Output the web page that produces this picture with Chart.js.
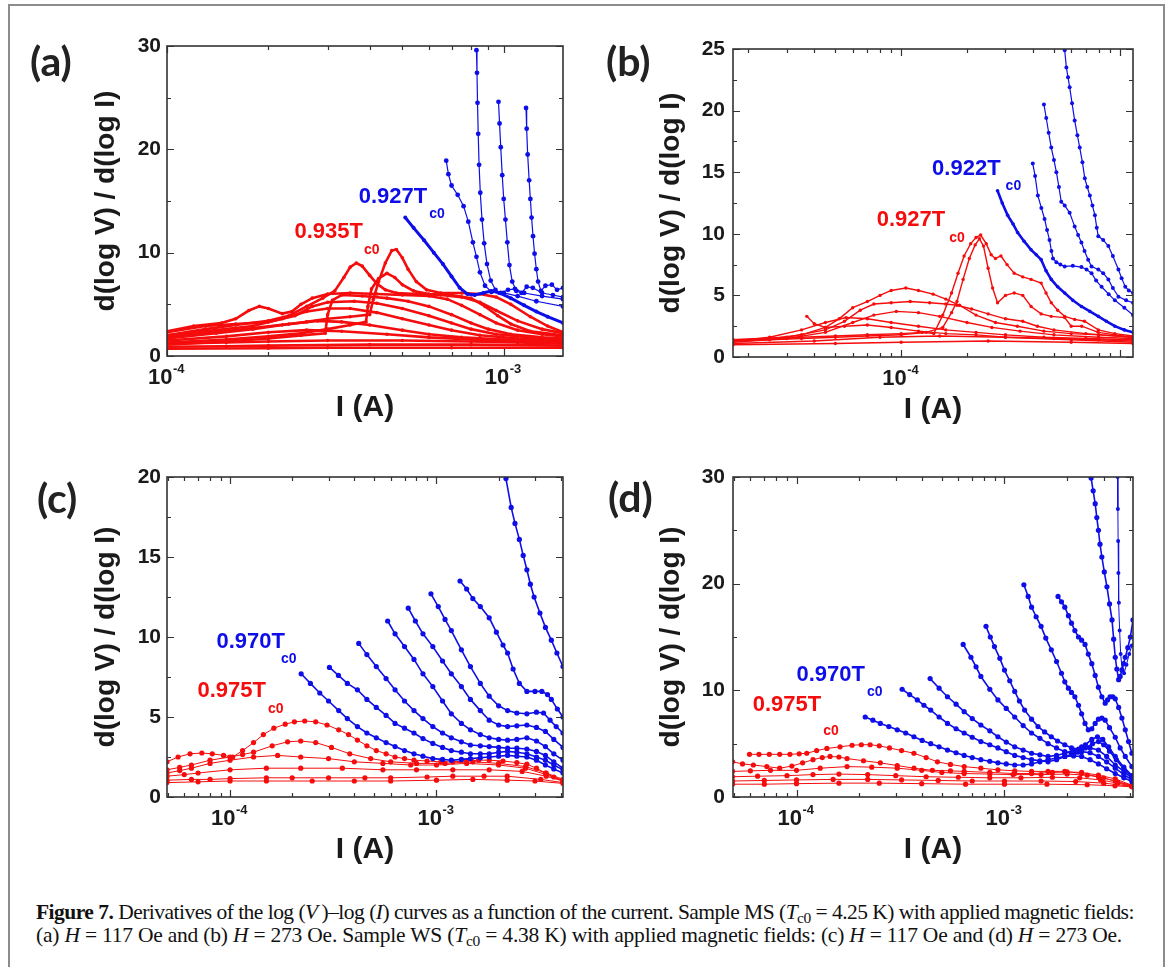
<!DOCTYPE html>
<html>
<head>
<meta charset="utf-8">
<script src="https://cdn.jsdelivr.net/npm/chart.js@4.4.1/dist/chart.umd.min.js"></script>
<style>
html, body { margin: 0; padding: 0; background: #fff; overflow: hidden; }
#fig { position: relative; width: 1168px; height: 967px; }
#box { position: absolute; left: 8px; top: 4px; width: 1153px; height: 1000px; border: 2px solid #8c8c8c; }
canvas { position: absolute; }
.tag { position: absolute; font: bold 41px Lato, 'Open Sans', sans-serif; line-height: 1; color: #222; }
#cap { position: absolute; left: 36px; top: 901px; font-family: 'Liberation Serif', 'Times New Roman', serif; font-size: 21.5px; line-height: 23px; color: #111; white-space: nowrap; }
#cap sub { font-size: 0.72em; line-height: 0; vertical-align: -0.25em; }
</style>
</head>
<body>
<div id="fig">
  <div id="box"></div>
  <canvas id="ca" width="580" height="440" style="left:0;top:0"></canvas>
  <canvas id="cb" width="588" height="440" style="left:580px;top:0"></canvas>
  <canvas id="cc" width="580" height="440" style="left:0;top:440px"></canvas>
  <canvas id="cd" width="588" height="440" style="left:580px;top:440px"></canvas>
  <div class="tag" style="left:30px;top:40px">(a)</div>
  <div class="tag" style="left:606px;top:40px">(b)</div>
  <div class="tag" style="left:37px;top:477px">(c)</div>
  <div class="tag" style="left:608px;top:476px">(d)</div>
  <div id="cap">
    <div><span id="l1"><b>Figure 7.</b> Derivatives of the log (<i>V</i>&#8201;)–log (<i>I</i>) curves as a function of the current. Sample MS (<i>T</i><sub>c0</sub> = 4.25 K) with applied magnetic fields:</span></div>
    <div><span id="l2">(a) <i>H</i> = 117 Oe and (b) <i>H</i> = 273 Oe. Sample WS (<i>T</i><sub>c0</sub> = 4.38 K) with applied magnetic fields: (c) <i>H</i> = 117 Oe and (d) <i>H</i> = 273 Oe.</span></div>
  </div>
</div>
<script>
// ---- panel (a): sample MS, H = 117 Oe   [I (A), d(logV)/d(logI)]
const aBlue1 = [[5.1e-4,13.4],[5.4e-4,12.4],[5.8e-4,11.2],[6.2e-4,10.0],[6.6e-4,8.9],[7.0e-4,7.7],[7.4e-4,6.6],[7.8e-4,6.0],[8.2e-4,5.9],[8.7e-4,6.1],[9.2e-4,6.3],[9.7e-4,6.1],[1.05e-3,5.6],[1.15e-3,4.9],[1.25e-3,4.3],[1.35e-3,3.8],[1.5e-3,3.2]];
const aBlue2 = [[6.75e-4,18.9],[6.85e-4,17.6],[7.0e-4,16.5],[7.3e-4,15.6],[7.6e-4,14.5],[7.85e-4,13.0],[8.1e-4,11.0],[8.3e-4,9.6],[8.5e-4,8.1],[8.8e-4,6.8],[9.2e-4,6.2],[1.0e-3,6.1],[1.1e-3,5.8],[1.25e-3,5.3],[1.5e-3,4.8]];
const aBlue3 = [[8.3e-4,29.6],[8.33e-4,27.4],[8.36e-4,24.5],[8.4e-4,21.5],[8.45e-4,18.5],[8.52e-4,15.8],[8.62e-4,13.2],[8.75e-4,10.9],[8.92e-4,8.9],[9.15e-4,7.3],[9.45e-4,6.4],[9.8e-4,6.1],[1.03e-3,6.4],[1.08e-3,6.5],[1.15e-3,6.1],[1.3e-3,5.8],[1.5e-3,5.5]];
const aBlue4 = [[9.65e-4,24.6],[9.72e-4,22.5],[9.8e-4,20.2],[9.9e-4,17.5],[1.0e-3,15.2],[1.012e-3,13.2],[1.025e-3,11.0],[1.04e-3,8.8],[1.06e-3,7.2],[1.09e-3,6.3],[1.13e-3,6.1],[1.17e-3,6.7],[1.22e-3,6.6],[1.3e-3,6.1],[1.4e-3,5.9],[1.5e-3,5.7]];
const aBlue5 = [[1.165e-3,24.0],[1.17e-3,22.0],[1.178e-3,19.5],[1.19e-3,17.0],[1.2e-3,15.2],[1.21e-3,13.4],[1.222e-3,11.6],[1.235e-3,9.9],[1.25e-3,8.4],[1.265e-3,7.2],[1.29e-3,6.3],[1.33e-3,6.8],[1.39e-3,6.9],[1.44e-3,6.4],[1.5e-3,6.6]];
const aRed1 = [[1.0e-4,2.4],[1.2e-4,2.9],[1.45e-4,3.2],[1.6e-4,3.6],[1.75e-4,4.4],[1.88e-4,4.8],[2.0e-4,4.6],[2.2e-4,4.1],[2.35e-4,4.3],[2.5e-4,5.0],[2.7e-4,5.6],[3.0e-4,6.0],[3.5e-4,6.1],[4.2e-4,6.0],[5.0e-4,5.9],[6.0e-4,5.8],[6.8e-4,5.5],[7.5e-4,4.9],[8.5e-4,4.0],[9.5e-4,3.2],[1.1e-3,2.5],[1.3e-3,2.1],[1.5e-3,1.9]];
const aRed2 = [[1.0e-4,2.0],[1.3e-4,2.6],[1.6e-4,3.0],[2.0e-4,3.4],[2.3e-4,3.9],[2.6e-4,4.8],[2.9e-4,5.6],[3.15e-4,6.3],[3.35e-4,7.6],[3.5e-4,8.6],[3.65e-4,9.0],[3.8e-4,8.7],[4.0e-4,7.8],[4.2e-4,7.0],[4.45e-4,6.4],[4.8e-4,6.1],[5.5e-4,6.0],[6.5e-4,5.9],[7.5e-4,5.7],[8.5e-4,5.2],[9.5e-4,4.4],[1.1e-3,3.4],[1.3e-3,2.6],[1.5e-3,2.2]];
const aRed3 = [[1.0e-4,1.7],[1.4e-4,2.2],[1.8e-4,2.6],[2.2e-4,3.0],[2.6e-4,3.3],[3.0e-4,3.6],[3.5e-4,3.8],[4.0e-4,4.0],[4.1e-4,5.5],[4.25e-4,7.2],[4.45e-4,9.0],[4.65e-4,10.2],[4.8e-4,10.3],[5.0e-4,9.5],[5.2e-4,8.4],[5.5e-4,7.2],[5.9e-4,6.4],[6.5e-4,6.1],[7.5e-4,6.1],[8.5e-4,6.0],[9.5e-4,5.7],[1.05e-3,5.0],[1.2e-3,3.8],[1.35e-3,2.9],[1.5e-3,2.3]];
const aRed4 = [[1.0e-4,1.3],[1.5e-4,1.6],[2.0e-4,1.9],[2.5e-4,2.2],[3.0e-4,2.6],[3.5e-4,3.0],[3.9e-4,3.3],[3.95e-4,4.8],[4.05e-4,6.5],[4.25e-4,7.5],[4.5e-4,8.0],[4.75e-4,7.6],[5.0e-4,6.9],[5.4e-4,6.3],[6.0e-4,6.0],[7.0e-4,5.9],[8.0e-4,5.6],[8.8e-4,4.8],[9.6e-4,3.9],[1.05e-3,3.1],[1.2e-3,2.4],[1.5e-3,2.0]];
const aRed5 = [[1.0e-4,1.1],[1.5e-4,1.4],[2.0e-4,1.7],[2.5e-4,2.0],[2.95e-4,2.2],[3.0e-4,4.0],[3.1e-4,5.4],[3.3e-4,5.9],[3.8e-4,5.8],[4.5e-4,5.6],[5.2e-4,5.3],[6.0e-4,4.8],[7.0e-4,4.0],[8.0e-4,3.2],[9.0e-4,2.6],[1.05e-3,2.1],[1.3e-3,1.8],[1.5e-3,1.7]];
const aRed6 = [[1.0e-4,2.3],[1.3e-4,2.9],[1.6e-4,3.1],[2.0e-4,3.3],[2.4e-4,3.9],[2.7e-4,4.8],[3.0e-4,5.2],[3.6e-4,5.3],[4.2e-4,5.1],[5.0e-4,4.6],[6.0e-4,3.9],[7.0e-4,3.2],[8.0e-4,2.6],[9.5e-4,2.1],[1.2e-3,1.8],[1.5e-3,1.6]];
const aRed7 = [[1.0e-4,2.0],[1.4e-4,2.5],[1.8e-4,2.9],[2.2e-4,3.6],[2.6e-4,4.3],[3.0e-4,4.6],[3.5e-4,4.6],[4.2e-4,4.2],[5.0e-4,3.6],[6.0e-4,3.0],[7.0e-4,2.5],[8.5e-4,2.0],[1.1e-3,1.7],[1.5e-3,1.5]];
const aRed8 = [[1.0e-4,1.8],[1.4e-4,2.3],[1.8e-4,2.7],[2.3e-4,3.1],[2.8e-4,3.4],[3.3e-4,3.3],[4.0e-4,3.0],[5.0e-4,2.5],[6.0e-4,2.1],[7.5e-4,1.8],[1.0e-3,1.6],[1.5e-3,1.4]];
const aRed9 = [[1.0e-4,1.5],[1.5e-4,1.9],[2.0e-4,2.3],[2.6e-4,2.5],[3.3e-4,2.4],[4.5e-4,2.1],[6.0e-4,1.8],[8.0e-4,1.6],[1.1e-3,1.4],[1.5e-3,1.3]];
const aRed10 = [[1.0e-4,1.2],[1.5e-4,1.3],[2.0e-4,1.4],[3.0e-4,1.5],[5.0e-4,1.5],[8.0e-4,1.4],[1.1e-3,1.3],[1.5e-3,1.2]];
const aRed11 = [[1.0e-4,0.9],[1.5e-4,0.95],[2.0e-4,1.0],[4.0e-4,1.1],[8.0e-4,1.1],[1.5e-3,1.0]];
const aRed12 = [[1.0e-4,0.7],[2.0e-4,0.75],[3.0e-4,0.8],[7.0e-4,0.8],[1.5e-3,0.8]];

// ---- panel (b): sample MS, H = 273 Oe
const bBlue1 = [[2.76e-4,13.5],[2.9e-4,12.5],[3.07e-4,11.5],[3.25e-4,10.8],[3.41e-4,10.1],[3.65e-4,9.4],[3.93e-4,8.7],[4.15e-4,8.3],[4.37e-4,7.9],[4.6e-4,7.0],[4.86e-4,6.3],[5.2e-4,5.7],[5.6e-4,5.2],[6.1e-4,4.6],[6.68e-4,4.1],[7.3e-4,3.7],[7.98e-4,3.3],[8.7e-4,2.9],[9.5e-4,2.5],[1.05e-3,2.2],[1.15e-3,2.0]];
const bBlue2 = [[4.0e-4,15.7],[4.1e-4,14.7],[4.22e-4,13.1],[4.38e-4,12.1],[4.53e-4,11.2],[4.65e-4,10.3],[4.77e-4,9.5],[4.87e-4,8.6],[4.95e-4,8.0],[5.13e-4,7.7],[5.35e-4,7.5],[5.6e-4,7.35],[6.1e-4,7.4],[6.68e-4,7.3],[7.05e-4,7.1],[7.43e-4,6.8],[7.8e-4,6.2],[8.26e-4,5.7],[8.9e-4,5.1],[9.5e-4,4.6],[1.05e-3,4.0],[1.15e-3,3.4]];
const bBlue3 = [[4.5e-4,20.5],[4.61e-4,19.4],[4.73e-4,18.2],[4.86e-4,17.0],[5.0e-4,16.0],[5.13e-4,15.0],[5.27e-4,13.8],[5.4e-4,12.6],[5.6e-4,12.3],[5.9e-4,11.7],[6.22e-4,10.6],[6.45e-4,9.9],[6.68e-4,9.3],[6.9e-4,8.6],[7.17e-4,7.9],[7.43e-4,7.35],[7.98e-4,7.1],[8.4e-4,6.8],[8.87e-4,6.3],[9.3e-4,5.6],[9.86e-4,4.9],[1.07e-3,4.6],[1.15e-3,4.4]];
const bBlue4 = [[5.6e-4,24.9],[5.7e-4,23.5],[5.8e-4,22.7],[5.9e-4,21.9],[6.05e-4,20.6],[6.22e-4,19.2],[6.4e-4,18.0],[6.56e-4,17.0],[6.75e-4,15.8],[6.92e-4,14.5],[7.1e-4,13.8],[7.3e-4,13.1],[7.5e-4,12.3],[7.7e-4,11.5],[7.85e-4,10.5],[7.98e-4,9.8],[8.4e-4,9.5],[8.87e-4,9.0],[9.3e-4,8.2],[9.86e-4,7.1],[1.02e-3,6.4],[1.06e-3,5.7],[1.1e-3,5.4],[1.15e-3,5.2]];
const bRed1 = [[1.7e-5,1.4],[2.5e-5,1.5],[3.5e-5,1.6],[5.0e-5,1.7],[7.0e-5,1.8],[1.0e-4,1.9],[1.25e-4,2.0],[1.41e-4,1.9],[1.55e-4,3.4],[1.7e-4,5.2],[1.82e-4,6.8],[1.94e-4,8.2],[2.08e-4,9.2],[2.2e-4,9.7],[2.31e-4,9.9],[2.45e-4,9.2],[2.58e-4,8.3],[2.7e-4,8.0],[2.86e-4,8.2],[3.05e-4,7.5],[3.29e-4,6.8],[3.6e-4,6.5],[3.93e-4,6.3],[4.37e-4,6.0],[4.6e-4,5.2],[4.86e-4,4.4],[5.2e-4,3.8],[5.6e-4,3.3],[6.22e-4,3.05],[6.9e-4,2.9],[7.98e-4,2.2],[9.5e-4,1.9],[1.15e-3,1.7]];
const bRed2 = [[1.7e-5,1.3],[2.5e-5,1.4],[3.5e-5,1.5],[5.0e-5,1.6],[7.0e-5,1.7],[1.0e-4,1.8],[1.3e-4,2.0],[1.55e-4,2.4],[1.7e-4,3.6],[1.8e-4,4.5],[1.92e-4,6.3],[2.05e-4,8.0],[2.18e-4,9.1],[2.28e-4,9.6],[2.38e-4,9.0],[2.5e-4,7.2],[2.62e-4,5.6],[2.76e-4,4.4],[3.0e-4,5.0],[3.29e-4,5.2],[3.6e-4,5.0],[3.93e-4,4.1],[4.37e-4,3.5],[4.86e-4,3.3],[5.6e-4,3.2],[6.0e-4,2.5],[6.7e-4,2.5],[7.98e-4,2.0],[9.5e-4,1.8],[1.15e-3,1.6]];
const bRed3 = [[1.7e-5,1.4],[2.5e-5,1.5],[3.5e-5,1.8],[4.5e-5,2.4],[5.2e-5,3.1],[6.0e-5,4.0],[7.0e-5,4.5],[8.0e-5,5.0],[9.0e-5,5.4],[1.05e-4,5.6],[1.2e-4,5.4],[1.4e-4,5.1],[1.6e-4,4.7],[1.85e-4,4.2],[2.2e-4,3.4],[2.7e-4,2.8],[3.4e-4,2.5],[4.5e-4,2.1],[6.0e-4,1.9],[8.0e-4,1.8],[1.15e-3,1.6]];
const bRed4 = [[1.7e-5,1.3],[3.0e-5,1.6],[4.5e-5,2.2],[5.5e-5,2.9],[6.5e-5,3.8],[7.5e-5,4.3],[9.0e-5,4.4],[1.1e-4,4.5],[1.35e-4,4.4],[1.6e-4,4.3],[1.8e-4,4.2],[2.1e-4,3.9],[2.5e-4,3.5],[3.0e-4,3.1],[3.6e-4,2.9],[4.2e-4,2.5],[5.0e-4,2.2],[7.0e-4,1.9],[1.15e-3,1.6]];
const bRed5 = [[1.7e-5,1.2],[3.0e-5,1.5],[4.5e-5,2.0],[6.0e-5,2.8],[7.5e-5,3.4],[9.5e-5,3.7],[1.2e-4,3.6],[1.5e-4,3.3],[2.0e-4,2.8],[2.6e-4,2.4],[3.5e-4,2.1],[5.0e-4,1.8],[8.0e-4,1.6],[1.15e-3,1.5]];
const bRed6 = [[1.7e-5,1.3],[2.5e-5,1.6],[3.5e-5,2.2],[4.5e-5,2.8],[5.6e-5,3.2],[7.0e-5,3.1],[9.0e-5,2.8],[1.2e-4,2.5],[1.6e-4,2.2],[2.2e-4,2.0],[3.0e-4,1.8],[4.5e-4,1.6],[7.0e-4,1.5],[1.15e-3,1.4]];
const bRed7 = [[3.7e-5,3.3],[4.0e-5,2.7],[4.5e-5,2.4],[5.5e-5,2.5],[7.0e-5,2.6],[9.0e-5,2.4],[1.2e-4,2.1],[1.6e-4,1.9],[2.2e-4,1.8],[3.0e-4,1.6],[5.0e-4,1.5],[8.0e-4,1.4],[1.15e-3,1.3]];
const bRed8 = [[1.7e-5,1.1],[4.0e-5,1.3],[8.0e-5,1.6],[1.5e-4,1.7],[3.0e-4,1.6],[6.0e-4,1.4],[1.15e-3,1.2]];
const bRed9 = [[1.7e-5,1.0],[5.0e-5,1.1],[1.0e-4,1.2],[2.5e-4,1.3],[6.0e-4,1.2],[1.15e-3,1.1]];

// ---- panel (c): sample WS, H = 117 Oe
const cBlue1 = [[2.21e-4,7.7],[2.45e-4,7.1],[2.72e-4,6.5],[3.0e-4,6.0],[3.36e-4,5.4],[3.7e-4,4.9],[4.14e-4,4.4],[4.6e-4,4.0],[5.11e-4,3.7],[5.7e-4,3.4],[6.3e-4,3.15],[7.0e-4,2.9],[7.78e-4,2.7],[8.6e-4,2.55],[9.6e-4,2.4],[1.07e-3,2.35],[1.18e-3,2.3],[1.32e-3,2.35],[1.46e-3,2.4],[1.63e-3,2.45],[1.8e-3,2.5],[2.0e-3,2.55],[2.21e-3,2.6],[2.45e-3,2.55],[2.74e-3,2.5],[3.05e-3,2.3],[3.37e-3,2.0],[3.7e-3,1.75],[4.1e-3,1.5]];
const cBlue2 = [[3.03e-4,8.1],[3.35e-4,7.6],[3.7e-4,7.1],[4.14e-4,6.7],[4.6e-4,6.1],[5.11e-4,5.6],[5.7e-4,5.1],[6.3e-4,4.6],[7.0e-4,4.3],[7.78e-4,4.0],[8.6e-4,3.65],[9.6e-4,3.35],[1.07e-3,3.1],[1.18e-3,2.9],[1.32e-3,2.8],[1.46e-3,2.7],[1.63e-3,2.7],[1.8e-3,2.7],[2.0e-3,2.8],[2.21e-3,2.85],[2.45e-3,2.8],[2.74e-3,2.7],[3.05e-3,2.5],[3.37e-3,2.3],[3.7e-3,2.0],[4.1e-3,1.7]];
const cBlue3 = [[4.2e-4,9.6],[4.6e-4,8.9],[5.11e-4,8.15],[5.7e-4,7.4],[6.3e-4,6.7],[7.0e-4,6.0],[7.78e-4,5.4],[8.6e-4,4.9],[9.6e-4,4.4],[1.07e-3,4.0],[1.18e-3,3.7],[1.32e-3,3.45],[1.46e-3,3.25],[1.63e-3,3.2],[1.8e-3,3.15],[2.0e-3,3.1],[2.21e-3,3.05],[2.45e-3,3.05],[2.74e-3,3.0],[3.05e-3,2.85],[3.37e-3,2.6],[3.7e-3,2.2],[4.1e-3,1.8]];
const cBlue4 = [[5.8e-4,11.0],[6.3e-4,10.2],[7.0e-4,9.4],[7.78e-4,8.6],[8.6e-4,7.7],[9.6e-4,6.9],[1.07e-3,6.0],[1.18e-3,5.2],[1.32e-3,4.6],[1.46e-3,4.2],[1.63e-3,3.9],[1.8e-3,3.7],[2.0e-3,3.6],[2.21e-3,3.55],[2.45e-3,3.6],[2.74e-3,3.7],[3.05e-3,3.5],[3.37e-3,3.15],[3.7e-3,2.7],[4.1e-3,2.3]];
const cBlue5 = [[7.3e-4,11.8],[7.9e-4,11.0],[8.6e-4,10.2],[9.6e-4,9.4],[1.07e-3,8.5],[1.18e-3,7.7],[1.32e-3,6.9],[1.46e-3,6.1],[1.63e-3,5.4],[1.8e-3,4.8],[2.0e-3,4.5],[2.21e-3,4.4],[2.45e-3,4.45],[2.74e-3,4.5],[3.05e-3,4.35],[3.37e-3,4.1],[3.7e-3,3.6],[4.1e-3,3.1]];
const cBlue6 = [[9.4e-4,12.7],[1.02e-3,11.9],[1.1e-3,11.1],[1.18e-3,10.4],[1.32e-3,9.2],[1.46e-3,8.15],[1.63e-3,7.1],[1.8e-3,6.3],[2.0e-3,5.7],[2.21e-3,5.4],[2.45e-3,5.25],[2.74e-3,5.2],[3.05e-3,5.3],[3.3e-3,5.25],[3.55e-3,4.8],[3.8e-3,4.4],[4.1e-3,4.0]];
const cBlue7 = [[1.3e-3,13.5],[1.4e-3,13.0],[1.5e-3,12.4],[1.63e-3,11.9],[1.8e-3,11.2],[1.95e-3,10.3],[2.1e-3,9.5],[2.21e-3,9.0],[2.35e-3,8.0],[2.52e-3,7.1],[2.74e-3,6.6],[3.0e-3,6.6],[3.24e-3,6.6],[3.45e-3,6.4],[3.6e-3,6.1],[3.85e-3,5.5],[4.1e-3,5.0]];
const cBlue8 = [[2.17e-3,19.9],[2.3e-3,18.1],[2.4e-3,17.1],[2.52e-3,16.1],[2.63e-3,15.1],[2.74e-3,14.2],[2.85e-3,13.3],[2.97e-3,12.5],[3.17e-3,11.5],[3.37e-3,10.6],[3.6e-3,9.8],[3.83e-3,9.0],[4.1e-3,8.15]];
const cRed1 = [[4.95e-5,2.2],[5.6e-5,2.5],[6.4e-5,2.7],[7.3e-5,2.75],[8.2e-5,2.7],[9.3e-5,2.6],[1.03e-4,2.5],[1.15e-4,2.9],[1.3e-4,3.4],[1.45e-4,3.9],[1.63e-4,4.3],[1.85e-4,4.55],[2.05e-4,4.7],[2.3e-4,4.75],[2.6e-4,4.7],[2.95e-4,4.5],[3.36e-4,4.2],[3.75e-4,3.9],[4.14e-4,3.56],[4.6e-4,3.2],[5.11e-4,2.9],[5.7e-4,2.7],[6.3e-4,2.5],[7.0e-4,2.4],[7.78e-4,2.3],[9.0e-4,2.25],[1.05e-3,2.2],[1.2e-3,2.2],[1.4e-3,2.25],[1.6e-3,2.3],[1.8e-3,2.3],[2.1e-3,2.25],[2.45e-3,2.15],[2.74e-3,2.05],[3.05e-3,1.8],[3.37e-3,1.5],[3.7e-3,1.25],[4.1e-3,1.05]];
const cRed2 = [[4.95e-5,1.7],[5.7e-5,1.85],[6.5e-5,2.0],[8.0e-5,2.3],[1.0e-4,2.5],[1.15e-4,2.65],[1.3e-4,2.8],[1.6e-4,3.2],[1.9e-4,3.45],[2.2e-4,3.5],[2.6e-4,3.4],[3.1e-4,3.1],[3.8e-4,2.7],[4.8e-4,2.4],[6.0e-4,2.2],[8.0e-4,2.1],[1.1e-3,2.1],[1.5e-3,2.2],[2.0e-3,2.1],[2.7e-3,1.9],[3.4e-3,1.5],[4.1e-3,1.1]];
const cRed3 = [[4.95e-5,1.5],[5.7e-5,1.65],[6.5e-5,1.8],[8.0e-5,2.1],[1.0e-4,2.3],[1.3e-4,2.5],[1.7e-4,2.6],[2.2e-4,2.5],[3.0e-4,2.4],[4.0e-4,2.2],[5.5e-4,2.1],[7.5e-4,2.0],[1.0e-3,2.0],[1.4e-3,2.1],[2.0e-3,2.0],[2.7e-3,1.8],[3.4e-3,1.4],[4.1e-3,1.0]];
const cRed4 = [[4.95e-5,1.3],[6.0e-5,1.4],[7.0e-5,1.5],[1.0e-4,1.7],[1.5e-4,1.8],[2.2e-4,1.8],[3.5e-4,1.8],[5.5e-4,1.7],[8.0e-4,1.7],[1.2e-3,1.7],[1.8e-3,1.7],[2.6e-3,1.6],[3.4e-3,1.3],[4.1e-3,1.0]];
const cRed5 = [[4.95e-5,1.05],[6.5e-5,1.1],[8.0e-5,1.1],[1.0e-4,1.15],[1.5e-4,1.2],[2.0e-4,1.2],[3.0e-4,1.2],[4.5e-4,1.2],[6.0e-4,1.2],[9.0e-4,1.25],[1.2e-3,1.3],[1.7e-3,1.3],[2.2e-3,1.3],[3.2e-3,1.1],[4.1e-3,0.9]];
const cRed6 = [[4.95e-5,0.9],[7.0e-5,0.95],[1.0e-4,1.0],[1.5e-4,1.0],[2.5e-4,1.0],[4.0e-4,1.0],[6.0e-4,1.0],[1.0e-3,1.05],[1.5e-3,1.1],[2.2e-3,1.05],[3.0e-3,1.0],[4.1e-3,0.85]];

// ---- panel (d): sample WS, H = 273 Oe
const dBlue1 = [[2.14e-4,7.5],[2.33e-4,7.2],[2.53e-4,6.9],[2.78e-4,6.6],[3.05e-4,6.3],[3.35e-4,6.0],[3.67e-4,5.65],[4.02e-4,5.3],[4.42e-4,5.0],[4.85e-4,4.7],[5.32e-4,4.4],[5.85e-4,4.15],[6.4e-4,3.9],[7.0e-4,3.7],[7.7e-4,3.5],[8.5e-4,3.35],[9.3e-4,3.2],[1.02e-3,3.1],[1.12e-3,3.0],[1.23e-3,3.0],[1.35e-3,3.1],[1.48e-3,3.3],[1.62e-3,3.5],[1.78e-3,3.65],[1.95e-3,3.8],[2.15e-3,3.85],[2.35e-3,3.8],[2.58e-3,3.5],[2.83e-3,3.1],[3.1e-3,2.65],[3.41e-3,2.2],[3.75e-3,1.8],[4.1e-3,1.45]];
const dBlue2 = [[3.22e-4,10.1],[3.5e-4,9.6],[3.81e-4,9.1],[4.1e-4,8.6],[4.42e-4,8.15],[4.85e-4,7.5],[5.32e-4,6.9],[5.85e-4,6.4],[6.4e-4,6.0],[7.0e-4,5.6],[7.7e-4,5.2],[8.5e-4,4.9],[9.3e-4,4.6],[1.02e-3,4.25],[1.12e-3,3.9],[1.23e-3,3.7],[1.35e-3,3.5],[1.48e-3,3.4],[1.62e-3,3.3],[1.78e-3,3.5],[1.95e-3,3.8],[2.15e-3,4.05],[2.35e-3,4.25],[2.58e-3,4.15],[2.83e-3,3.8],[3.1e-3,3.3],[3.41e-3,2.7],[3.75e-3,2.1],[4.1e-3,1.6]];
const dBlue3 = [[4.39e-4,11.1],[4.85e-4,10.2],[5.32e-4,9.4],[5.85e-4,8.7],[6.4e-4,8.0],[7.0e-4,7.35],[7.7e-4,6.75],[8.5e-4,6.2],[9.3e-4,5.65],[1.02e-3,5.15],[1.12e-3,4.7],[1.23e-3,4.4],[1.35e-3,4.1],[1.48e-3,3.95],[1.62e-3,3.8],[1.78e-3,3.9],[1.95e-3,4.1],[2.15e-3,4.4],[2.35e-3,4.7],[2.58e-3,4.6],[2.83e-3,4.4],[3.1e-3,3.8],[3.41e-3,3.0],[3.75e-3,2.4],[4.1e-3,1.75]];
const dBlue4 = [[6.33e-4,14.3],[6.9e-4,13.1],[7.3e-4,12.2],[7.7e-4,11.3],[8.5e-4,10.1],[9.3e-4,9.1],[1.02e-3,8.3],[1.12e-3,7.5],[1.23e-3,6.7],[1.35e-3,6.0],[1.48e-3,5.5],[1.62e-3,5.0],[1.78e-3,4.6],[1.95e-3,4.25],[2.1e-3,4.1],[2.25e-3,4.2],[2.45e-3,4.6],[2.65e-3,5.0],[2.83e-3,5.2],[3.0e-3,4.9],[3.2e-3,4.3],[3.45e-3,3.5],[3.75e-3,2.6],[4.1e-3,1.9]];
const dBlue5 = [[8.15e-4,16.0],[8.55e-4,15.0],[8.95e-4,14.1],[9.5e-4,13.0],[1.0e-3,11.9],[1.06e-3,10.9],[1.12e-3,9.9],[1.18e-3,9.0],[1.25e-3,8.15],[1.35e-3,7.3],[1.45e-3,6.6],[1.56e-3,6.1],[1.68e-3,5.65],[1.8e-3,5.25],[1.95e-3,4.9],[2.1e-3,4.6],[2.27e-3,4.5],[2.45e-3,4.9],[2.63e-3,5.4],[2.8e-3,5.65],[2.97e-3,5.4],[3.17e-3,4.7],[3.41e-3,3.8],[3.75e-3,2.8],[4.1e-3,2.0]];
const dBlue6 = [[1.24e-3,19.9],[1.3e-3,18.8],[1.35e-3,17.8],[1.42e-3,16.9],[1.5e-3,16.0],[1.58e-3,14.9],[1.68e-3,13.8],[1.78e-3,12.7],[1.88e-3,11.6],[1.95e-3,10.8],[2.03e-3,10.2],[2.1e-3,9.8],[2.18e-3,9.4],[2.27e-3,8.6],[2.35e-3,7.8],[2.44e-3,6.9],[2.53e-3,6.3],[2.63e-3,6.4],[2.73e-3,6.9],[2.83e-3,7.3],[2.94e-3,7.4],[3.05e-3,7.2],[3.2e-3,6.5],[3.41e-3,5.6],[3.6e-3,4.6],[3.81e-3,3.8],[4.1e-3,2.85]];
const dBlue7 = [[1.81e-3,18.8],[1.88e-3,18.3],[1.95e-3,17.8],[2.03e-3,17.0],[2.1e-3,16.3],[2.18e-3,15.6],[2.27e-3,15.0],[2.35e-3,14.7],[2.44e-3,14.3],[2.53e-3,13.4],[2.63e-3,12.5],[2.73e-3,11.4],[2.83e-3,10.3],[2.94e-3,9.4],[3.05e-3,8.8],[3.13e-3,9.1],[3.22e-3,9.4],[3.32e-3,9.4],[3.41e-3,9.2],[3.54e-3,8.4],[3.67e-3,7.4],[3.81e-3,6.3],[3.95e-3,5.2],[4.1e-3,4.1]];
const dBlue8 = [[2.61e-3,29.9],[2.67e-3,28.7],[2.73e-3,27.5],[2.78e-3,26.2],[2.83e-3,25.0],[2.88e-3,23.7],[2.94e-3,22.5],[3.02e-3,21.1],[3.11e-3,19.7],[3.2e-3,18.1],[3.29e-3,16.6],[3.35e-3,14.8],[3.41e-3,13.1],[3.47e-3,12.0],[3.54e-3,11.0],[3.6e-3,11.3],[3.67e-3,11.9],[3.74e-3,12.5],[3.81e-3,13.1],[3.92e-3,14.0],[4.03e-3,15.0],[4.15e-3,16.6]];
const dBlue9 = [[3.5e-3,30.0],[3.51e-3,27.0],[3.52e-3,24.0],[3.53e-3,21.0],[3.55e-3,18.2],[3.58e-3,15.6],[3.62e-3,13.4],[3.68e-3,12.0],[3.76e-3,11.6],[3.86e-3,12.4],[3.98e-3,13.4],[4.1e-3,14.2]];
const dRed1 = [[5.94e-5,4.0],[6.6e-5,4.0],[7.4e-5,4.0],[8.3e-5,4.0],[9.3e-5,4.0],[1.03e-4,4.05],[1.12e-4,4.1],[1.25e-4,4.35],[1.4e-4,4.55],[1.62e-4,4.7],[1.85e-4,4.85],[2.05e-4,4.9],[2.26e-4,4.9],[2.5e-4,4.8],[2.8e-4,4.6],[3.2e-4,4.35],[3.67e-4,4.1],[4.2e-4,3.7],[4.76e-4,3.3],[5.5e-4,3.05],[6.4e-4,2.85],[7.7e-4,2.7],[9.3e-4,2.55],[1.12e-3,2.45],[1.35e-3,2.4],[1.62e-3,2.4],[1.95e-3,2.4],[2.35e-3,2.2],[2.83e-3,1.9],[3.41e-3,1.5],[4.1e-3,1.1]];
const dRed2 = [[4.93e-5,3.3],[5.5e-5,3.1],[6.2e-5,3.0],[7.2e-5,2.85],[8.3e-5,2.7],[9.5e-5,2.9],[1.07e-4,3.2],[1.2e-4,3.5],[1.33e-4,3.7],[1.45e-4,3.8],[1.6e-4,3.75],[1.75e-4,3.6],[2.1e-4,3.4],[2.53e-4,3.2],[3.05e-4,2.95],[3.67e-4,2.7],[4.5e-4,2.5],[5.5e-4,2.45],[6.4e-4,2.4],[8.5e-4,2.3],[1.12e-3,2.2],[1.35e-3,2.2],[1.7e-3,2.3],[2.0e-3,2.35],[2.35e-3,2.3],[2.83e-3,2.05],[3.41e-3,1.7],[4.1e-3,1.1]];
const dRed3 = [[4.93e-5,2.4],[6.0e-5,2.45],[7.5e-5,2.5],[1.0e-4,2.5],[1.3e-4,2.7],[1.75e-4,2.85],[2.3e-4,2.8],[3.05e-4,2.7],[4.0e-4,2.5],[5.0e-4,2.3],[6.4e-4,2.2],[8.5e-4,2.15],[1.1e-3,2.1],[1.5e-3,2.1],[2.0e-3,2.15],[2.5e-3,2.05],[3.0e-3,1.8],[3.5e-3,1.4],[4.1e-3,1.05]];
const dRed4 = [[4.93e-5,1.9],[6.5e-5,1.95],[9.0e-5,2.0],[1.2e-4,2.1],[1.6e-4,2.15],[2.2e-4,2.1],[3.0e-4,2.0],[4.2e-4,1.9],[6.0e-4,1.85],[8.5e-4,1.8],[1.2e-3,1.8],[1.7e-3,1.85],[2.3e-3,1.8],[2.9e-3,1.6],[3.5e-3,1.3],[4.1e-3,1.0]];
const dRed5 = [[4.93e-5,1.5],[7.0e-5,1.55],[1.0e-4,1.6],[1.5e-4,1.65],[2.2e-4,1.65],[3.2e-4,1.6],[4.8e-4,1.55],[7.0e-4,1.5],[1.0e-3,1.5],[1.5e-3,1.5],[2.2e-3,1.45],[3.0e-3,1.3],[4.1e-3,1.0]];
const dRed6 = [[4.93e-5,1.2],[7.0e-5,1.2],[1.0e-4,1.25],[1.6e-4,1.3],[2.5e-4,1.3],[4.0e-4,1.25],[6.5e-4,1.2],[1.0e-3,1.2],[1.6e-3,1.2],[2.5e-3,1.15],[3.4e-3,1.05],[4.1e-3,0.95]];

// tick labels shown on the current axis (powers of ten)
const aXLabels = [1e-4, 1e-3];
const bXLabels = [1e-4];
const cXLabels = [1e-4, 1e-3];
const dXLabels = [1e-4, 1e-3];

const FONT = "'Liberation Sans', Arial, Helvetica, sans-serif";
const RED = 'rgb(245,12,12)';
const BLUE = 'rgb(14,14,232)';

// frame, inward ticks, superscript x labels and the temperature notes
const framePlugin = {
  id: 'frame',
  afterDraw(chart, args, opts) {
    const ctx = chart.ctx, a = chart.chartArea;
    const xs = chart.scales.x, ys = chart.scales.y;
    ctx.save();
    ctx.strokeStyle = '#333';
    ctx.lineWidth = 1.2;
    ctx.beginPath();
    const lo = Math.floor(Math.log10(xs.min)), hi = Math.ceil(Math.log10(xs.max));
    for (let d = lo; d <= hi; d++) {
      for (let m = 1; m <= 9; m++) {
        const v = m * Math.pow(10, d);
        if (v < xs.min * 0.999 || v > xs.max * 1.001) continue;
        const px = Math.round(xs.getPixelForValue(v)) + 0.5;
        const len = m === 1 ? 7 : 4;
        ctx.moveTo(px, a.bottom); ctx.lineTo(px, a.bottom - len);
        ctx.moveTo(px, a.top); ctx.lineTo(px, a.top + len);
      }
    }
    ys.ticks.forEach(t => {
      const py = Math.round(ys.getPixelForValue(t.value)) + 0.5;
      const len = t.value % opts.yLabelStep === 0 ? 7 : 4;
      ctx.moveTo(a.left, py); ctx.lineTo(a.left + len, py);
      ctx.moveTo(a.right, py); ctx.lineTo(a.right - len, py);
    });
    ctx.stroke();
    ctx.lineWidth = 1.6;
    ctx.strokeRect(a.left, a.top, a.right - a.left, a.bottom - a.top);

    ctx.fillStyle = '#1a1a1a';
    ctx.textAlign = 'left';
    ctx.textBaseline = 'alphabetic';
    opts.xLabels.forEach(v => {
      const px = xs.getPixelForValue(v);
      const sup = '-' + Math.round(-Math.log10(v));
      ctx.font = 'bold 22px ' + FONT;
      const wb = ctx.measureText('10').width;
      ctx.font = 'bold 13px ' + FONT;
      const ws = ctx.measureText(sup).width;
      const x0 = px - (wb + ws) / 2 - 1;
      ctx.font = 'bold 22px ' + FONT;
      ctx.fillText('10', x0, a.bottom + 28);
      ctx.font = 'bold 13px ' + FONT;
      ctx.fillText(sup, x0 + wb + 0.5, a.bottom + 17);
    });

    ctx.textBaseline = 'middle';
    opts.notes.forEach(n => {
      const px = xs.getPixelForValue(n.x), py = ys.getPixelForValue(n.y);
      ctx.fillStyle = n.color;
      ctx.font = 'bold 22px ' + FONT;
      ctx.fillText(n.text, px, py);
      const w = ctx.measureText(n.text).width;
      ctx.font = 'bold 14px ' + FONT;
      ctx.fillText(n.sub, px + w + n.gap, py + n.dy);
    });
    ctx.restore();
  }
};

function series(curves, color, width, radius) {
  return curves.map(c => ({
    data: c.map(([x, y]) => ({ x, y })),
    showLine: true,
    borderColor: color,
    backgroundColor: color,
    borderWidth: width,
    pointRadius: radius,
    pointBorderWidth: 0,
    pointHoverRadius: 0
  }));
}

function makePanel(id, p) {
  return new Chart(document.getElementById(id), {
    type: 'scatter',
    data: { datasets: p.datasets },
    options: {
      responsive: false,
      animation: false,
      events: [],
      layout: { padding: p.pad },
      plugins: {
        legend: { display: false },
        tooltip: { enabled: false },
        frame: { xLabels: p.xLabels, notes: p.notes, yLabelStep: p.yLabelStep }
      },
      scales: {
        x: {
          type: 'logarithmic', min: p.xMin, max: p.xMax,
          ticks: { display: false },
          grid: { display: false, drawTicks: false },
          border: { display: false },
          title: { display: true, text: 'I (A)', color: '#1a1a1a',
                   font: { family: FONT, size: 30, weight: 'bold' },
                   padding: { top: 0, bottom: p.xTitlePad } },
          afterFit: s => { s.height = p.xH; }
        },
        y: {
          min: 0, max: p.yMax,
          ticks: { stepSize: p.yStep, autoSkip: false, padding: p.yTickPad, color: '#1a1a1a',
                   font: { family: FONT, size: 21, weight: 'bold' },
                   callback: v => (v % p.yLabelStep === 0 ? String(v) : '') },
          grid: { display: false, drawTicks: false },
          border: { display: false },
          title: { display: true, text: 'd(log V) / d(log I)', color: '#1a1a1a',
                   font: { family: FONT, size: 28, weight: 'bold' },
                   padding: { top: p.yTitlePad, bottom: 0 } },
          afterFit: s => { s.width = p.yW; }
        }
      }
    },
    plugins: [framePlugin]
  });
}

makePanel('ca', {
  datasets: [
    ...series([aBlue1], BLUE, 3, 2),
    ...series([aBlue2, aBlue3, aBlue4, aBlue5], BLUE, 1.2, 2.4),
    ...series([aRed1, aRed2, aRed3, aRed4, aRed5, aRed6, aRed7, aRed8, aRed9, aRed10, aRed11, aRed12], RED, 2.6, 1.8)
  ],
  pad: { left: 0, top: 46, right: 17, bottom: 0 }, yW: 167, xH: 84,
  xMin: 1e-4, xMax: 1.5e-3, yMax: 30, yStep: 5, yLabelStep: 10,
  yTitlePad: 89, yTickPad: 6, xTitlePad: 14, xLabels: aXLabels,
  notes: [
    { text: '0.927T', sub: 'c0', x: 3.71e-4, y: 15.4, color: BLUE, gap: 2, dy: 17 },
    { text: '0.935T', sub: 'c0', x: 2.39e-4, y: 12.0, color: RED, gap: 1, dy: 18 }
  ]
});

makePanel('cb', {
  datasets: [
    ...series([bBlue1], BLUE, 2.6, 1.8),
    ...series([bBlue2, bBlue3, bBlue4], BLUE, 1.2, 2),
    ...series([bRed1, bRed2, bRed3, bRed4, bRed5, bRed6, bRed7, bRed8, bRed9], RED, 1.4, 1.7)
  ],
  pad: { left: 0, top: 49, right: 35, bottom: 0 }, yW: 153, xH: 83,
  xMin: 1.7e-5, xMax: 1.15e-3, yMax: 25, yStep: 2.5, yLabelStep: 5,
  yTitlePad: 74, yTickPad: 8, xTitlePad: 12, xLabels: bXLabels,
  notes: [
    { text: '0.922T', sub: 'c0', x: 1.385e-4, y: 15.3, color: BLUE, gap: 5, dy: 18 },
    { text: '0.927T', sub: 'c0', x: 7.73e-5, y: 11.1, color: RED, gap: 4, dy: 18 }
  ]
});

makePanel('cc', {
  datasets: [
    ...series([cBlue1, cBlue2, cBlue3, cBlue4, cBlue5, cBlue6, cBlue7, cBlue8], BLUE, 1.6, 2.6),
    ...series([cRed1, cRed2, cRed3, cRed4, cRed5, cRed6], RED, 1, 2.6)
  ],
  pad: { left: 0, top: 37, right: 17, bottom: 0 }, yW: 167, xH: 83,
  xMin: 4.95e-5, xMax: 4.1e-3, yMax: 20, yStep: 2.5, yLabelStep: 5,
  yTitlePad: 89, yTickPad: 6, xTitlePad: 12, xLabels: cXLabels,
  notes: [
    { text: '0.970T', sub: 'c0', x: 8.6e-5, y: 9.7, color: BLUE, gap: -4, dy: 17 },
    { text: '0.975T', sub: 'c0', x: 6.95e-5, y: 6.6, color: RED, gap: 2, dy: 18 }
  ]
});

makePanel('cd', {
  datasets: [
    ...series([dBlue1, dBlue2, dBlue3, dBlue4, dBlue5, dBlue6, dBlue7, dBlue8], BLUE, 1.6, 2.6),
    ...series([dBlue9], BLUE, 1, 2),
    ...series([dRed1, dRed2, dRed3, dRed4, dRed5, dRed6], RED, 1, 2.6)
  ],
  pad: { left: 0, top: 37, right: 35, bottom: 0 }, yW: 153, xH: 83,
  xMin: 4.95e-5, xMax: 4.15e-3, yMax: 30, yStep: 5, yLabelStep: 10,
  yTitlePad: 74, yTickPad: 8, xTitlePad: 12, xLabels: dXLabels,
  notes: [
    { text: '0.970T', sub: 'c0', x: 1.0e-4, y: 11.4, color: BLUE, gap: 2, dy: 17 },
    { text: '0.975T', sub: 'c0', x: 6.16e-5, y: 8.6, color: RED, gap: 2, dy: 26 }
  ]
});

// stretch or squeeze the two caption lines to the widths they have in the figure
function fitLine(el, target) {
  const w = el.getBoundingClientRect().width;
  if (w > target) {
    const chars = el.textContent.length;
    el.style.letterSpacing = ((target - w) / chars).toFixed(3) + 'px';
  } else {
    const n = (el.textContent.match(/ /g) || []).length;
    if (n) el.style.wordSpacing = ((target - w) / n).toFixed(2) + 'px';
  }
}
fitLine(document.getElementById('l1'), 1098);
fitLine(document.getElementById('l2'), 1086);
</script>
</body>
</html>
